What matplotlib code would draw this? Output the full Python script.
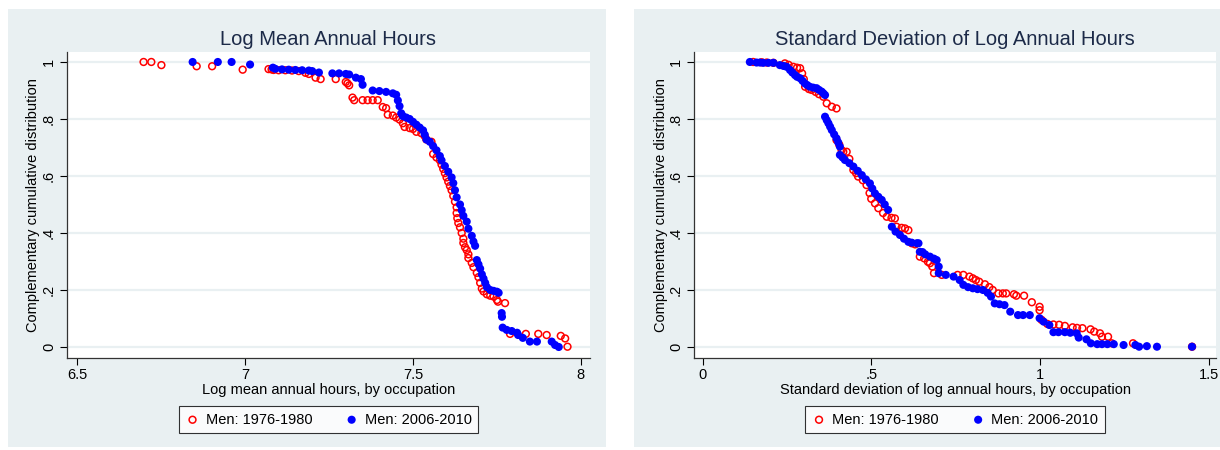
import matplotlib
matplotlib.use("Agg")
import matplotlib.pyplot as plt
from matplotlib.patches import Rectangle

plt.rcParams["font.family"] = ["Liberation Sans", "DejaVu Sans"]

# ---- data (x value, complementary cumulative share) ----
# Left panel: log mean annual hours
mean_red_x = [6.698, 6.721, 6.751, 6.856, 6.902, 6.993, 7.07, 7.079, 7.085, 7.10, 7.12, 7.14, 7.16,
              7.18, 7.19, 7.21, 7.225, 7.27, 7.30, 7.305, 7.31, 7.32, 7.325, 7.35, 7.365, 7.38, 7.395,
              7.41, 7.42, 7.425, 7.44, 7.45, 7.46, 7.47, 7.475, 7.49, 7.50, 7.51, 7.525, 7.535, 7.54,
              7.555, 7.56, 7.57, 7.58, 7.585, 7.59, 7.595, 7.60, 7.605, 7.61, 7.615, 7.62, 7.625, 7.63,
              7.63, 7.632, 7.635, 7.64, 7.645, 7.65, 7.65, 7.655, 7.66, 7.665, 7.665, 7.675, 7.68, 7.69,
              7.695, 7.70, 7.705, 7.71, 7.72, 7.73, 7.74, 7.75, 7.753, 7.774, 7.789, 7.836, 7.873, 7.898,
              7.94, 7.953, 7.96]
mean_red_y = [1.0, 1.0, 0.989, 0.985, 0.985, 0.973, 0.975, 0.974, 0.972, 0.971, 0.971, 0.970, 0.968,
              0.962, 0.958, 0.945, 0.940, 0.940, 0.930, 0.925, 0.918, 0.875, 0.866, 0.866, 0.866, 0.866, 0.866,
              0.842, 0.838, 0.815, 0.812, 0.805, 0.798, 0.785, 0.772, 0.768, 0.765, 0.755, 0.750, 0.740, 0.728,
              0.720, 0.677, 0.665, 0.655, 0.640, 0.625, 0.610, 0.595, 0.580, 0.565, 0.550, 0.530, 0.510, 0.490,
              0.470, 0.452, 0.435, 0.420, 0.400, 0.380, 0.365, 0.350, 0.340, 0.325, 0.312, 0.295, 0.280, 0.260,
              0.245, 0.225, 0.205, 0.195, 0.185, 0.180, 0.177, 0.165, 0.159, 0.154, 0.046, 0.046, 0.046, 0.042,
              0.039, 0.030, 0.001]

mean_blue_x = [6.844, 6.919, 6.96, 7.015, 7.083, 7.09, 7.11, 7.13, 7.15, 7.17, 7.19, 7.20, 7.22, 7.26,
               7.28, 7.30, 7.31, 7.33, 7.345, 7.35, 7.38, 7.40, 7.42, 7.44, 7.45, 7.455, 7.46, 7.465,
               7.47, 7.48, 7.49, 7.50, 7.51, 7.52, 7.53, 7.535, 7.54, 7.55, 7.56, 7.57, 7.58, 7.585,
               7.595, 7.605, 7.615, 7.62, 7.625, 7.63, 7.64, 7.645, 7.65, 7.66, 7.665, 7.675, 7.68, 7.685,
               7.69, 7.695, 7.70, 7.705, 7.71, 7.715, 7.72, 7.73, 7.74, 7.75, 7.755, 7.764, 7.765, 7.767,
               7.779, 7.794, 7.81, 7.813, 7.827, 7.848, 7.869, 7.913, 7.923, 7.934]
mean_blue_y = [1.0, 1.0, 1.0, 0.991, 0.980, 0.976, 0.974, 0.973, 0.972, 0.971, 0.970, 0.968, 0.963, 0.960,
               0.960, 0.958, 0.956, 0.945, 0.940, 0.920, 0.900, 0.898, 0.895, 0.890, 0.885, 0.865, 0.845, 0.820,
               0.810, 0.805, 0.800, 0.790, 0.780, 0.770, 0.760, 0.745, 0.728, 0.720, 0.705, 0.690, 0.670, 0.655,
               0.635, 0.615, 0.595, 0.575, 0.550, 0.525, 0.500, 0.480, 0.460, 0.440, 0.415, 0.390, 0.370, 0.355,
               0.305, 0.290, 0.275, 0.255, 0.240, 0.225, 0.210, 0.200, 0.197, 0.194, 0.190, 0.119, 0.106, 0.068,
               0.060, 0.056, 0.050, 0.042, 0.032, 0.019, 0.019, 0.019, 0.007, 0.0]

# Right panel: standard deviation of log annual hours
sd_red_x = [0.15, 0.175, 0.19, 0.21, 0.244, 0.255, 0.269, 0.28, 0.289, 0.295, 0.30, 0.304, 0.315, 0.323,
            0.335, 0.345, 0.358, 0.368, 0.383, 0.397, 0.397, 0.405, 0.412, 0.417, 0.427, 0.435, 0.447,
            0.455, 0.461, 0.475, 0.486, 0.495, 0.50, 0.511, 0.521, 0.535, 0.546, 0.56, 0.57, 0.575, 0.59,
            0.60, 0.61, 0.62, 0.63, 0.644, 0.657, 0.668, 0.674, 0.681, 0.686, 0.709, 0.756, 0.773, 0.791,
            0.801, 0.81, 0.82, 0.837, 0.85, 0.86, 0.877, 0.89, 0.90, 0.923, 0.93, 0.953, 0.976, 0.999,
            0.999, 1.005, 1.022, 1.04, 1.057, 1.074, 1.097, 1.11, 1.126, 1.15, 1.161, 1.178, 1.184, 1.202,
            1.213, 1.276, 1.451]
sd_red_y = [1.0, 0.999, 0.998, 0.997, 0.995, 0.990, 0.983, 0.980, 0.978, 0.960, 0.940, 0.913, 0.905, 0.902,
            0.895, 0.887, 0.878, 0.855, 0.843, 0.837, 0.726, 0.710, 0.691, 0.685, 0.685, 0.660, 0.621,
            0.610, 0.598, 0.585, 0.568, 0.540, 0.520, 0.504, 0.487, 0.470, 0.457, 0.453, 0.451, 0.422, 0.418,
            0.416, 0.410, 0.364, 0.360, 0.317, 0.311, 0.299, 0.294, 0.282, 0.259, 0.253, 0.253, 0.253, 0.247,
            0.241, 0.235, 0.229, 0.220, 0.210, 0.200, 0.188, 0.188, 0.188, 0.185, 0.180, 0.180, 0.157, 0.141,
            0.129, 0.095, 0.081, 0.079, 0.078, 0.074, 0.069, 0.067, 0.066, 0.062, 0.054, 0.048, 0.036, 0.036,
            0.013, 0.013, 0.001]

sd_blue_x = [0.140, 0.160, 0.17, 0.18, 0.195, 0.21, 0.229, 0.24, 0.249, 0.259, 0.266, 0.274, 0.28, 0.289,
             0.296, 0.303, 0.31, 0.318, 0.328, 0.338, 0.345, 0.353, 0.358, 0.363, 0.363, 0.368, 0.373,
             0.378, 0.383, 0.39, 0.397, 0.402, 0.407, 0.407, 0.415, 0.422, 0.435, 0.447, 0.46, 0.472,
             0.484, 0.496, 0.503, 0.511, 0.521, 0.531, 0.54, 0.55, 0.561, 0.572, 0.585, 0.597, 0.61, 0.62,
             0.635, 0.64, 0.644, 0.652, 0.66, 0.674, 0.686, 0.694, 0.70, 0.70, 0.721, 0.744, 0.762, 0.773,
             0.787, 0.801, 0.815, 0.831, 0.845, 0.855, 0.866, 0.88, 0.895, 0.912, 0.935, 0.95, 0.97, 0.999,
             1.011, 1.028, 1.04, 1.055, 1.074, 1.09, 1.109, 1.115, 1.138, 1.151, 1.17, 1.184, 1.2, 1.219,
             1.248, 1.283, 1.294, 1.317, 1.347, 1.451]
sd_blue_y = [1.0, 0.998, 0.998, 0.997, 0.997, 0.997, 0.989, 0.986, 0.983, 0.972, 0.963, 0.954, 0.948, 0.943,
             0.934, 0.925, 0.919, 0.913, 0.910, 0.908, 0.902, 0.896, 0.890, 0.884, 0.808, 0.796, 0.785,
             0.773, 0.761, 0.746, 0.732, 0.718, 0.703, 0.674, 0.665, 0.656, 0.645, 0.633, 0.618, 0.603,
             0.588, 0.574, 0.556, 0.539, 0.527, 0.516, 0.500, 0.481, 0.422, 0.405, 0.393, 0.380, 0.369, 0.366,
             0.364, 0.364, 0.334, 0.333, 0.325, 0.317, 0.310, 0.305, 0.282, 0.259, 0.253, 0.247, 0.235, 0.218,
             0.210, 0.206, 0.203, 0.200, 0.190, 0.177, 0.153, 0.150, 0.147, 0.124, 0.112, 0.112, 0.112, 0.101,
             0.089, 0.077, 0.052, 0.052, 0.052, 0.050, 0.048, 0.033, 0.027, 0.013, 0.010, 0.010, 0.010, 0.010,
             0.007, 0.007, 0.001, 0.003, 0.001, 0.001]

series_labels = ["Men: 1976-1980", "Men: 2006-2010"]
titles = ["Log Mean Annual Hours", "Standard Deviation of Log Annual Hours"]
xlabels = ["Log mean annual hours, by occupation",
           "Standard deviation of log annual hours, by occupation"]
y_ticks = [0, 0.2, 0.4, 0.6, 0.8, 1]
y_ticklabels = ["0", ".2", ".4", ".6", ".8", "1"]
mean_ticks = [6.5, 7, 7.5, 8]
mean_ticklabels = ["6.5", "7", "7.5", "8"]
sd_ticks = [0, 0.5, 1, 1.5]
sd_ticklabels = ["0", ".5", "1", "1.5"]

BG = "#e9f0f2"
TITLE_C = "#1c2a48"
W, H = 1220, 450


def px_box(left, top, right, bottom):
    return [left / W, (H - bottom) / H, (right - left) / W, (bottom - top) / H]


fig = plt.figure(figsize=(12.2, 4.5), dpi=100)
fig.patches.append(Rectangle((8 / W, 3 / H), 598 / W, 438 / H, transform=fig.transFigure,
                             facecolor=BG, edgecolor="none", zorder=-5))
fig.patches.append(Rectangle((634 / W, 3 / H), 586 / W, 438 / H, transform=fig.transFigure,
                             facecolor=BG, edgecolor="none", zorder=-5))

panels = [
    dict(box=(67, 52, 590, 358), xlim=(6.470, 8.027), ticks=mean_ticks, ticklabels=mean_ticklabels,
         red=(mean_red_x, mean_red_y), blue=(mean_blue_x, mean_blue_y)),
    dict(box=(694, 52, 1216, 358), xlim=(-0.0255, 1.522), ticks=sd_ticks, ticklabels=sd_ticklabels,
         red=(sd_red_x, sd_red_y), blue=(sd_blue_x, sd_blue_y)),
]

for i, p in enumerate(panels):
    ax = fig.add_axes(px_box(*p["box"]))
    ax.set_facecolor("white")
    ax.scatter(*p["red"], s=24, facecolors="none", edgecolors="#ff0000", linewidths=1.1,
               label=series_labels[0], zorder=3)
    ax.scatter(*p["blue"], s=34, color="#0000ff", edgecolors="none", label=series_labels[1], zorder=4)

    ax.set_xlim(*p["xlim"])
    ax.set_ylim(-0.0386, 1.035)
    ax.set_xticks(p["ticks"], p["ticklabels"])
    ax.set_yticks(y_ticks, y_ticklabels)
    ax.tick_params(axis="y", labelrotation=90, length=5, width=0.8, pad=3, labelsize=10.5)
    ax.tick_params(axis="x", length=5, width=0.8, pad=2, labelsize=10.5)
    for lab in ax.get_yticklabels():
        lab.set_va("center")
    ax.grid(axis="y", color=BG, linewidth=1.6, zorder=0)
    ax.set_axisbelow(True)
    for side in ["top", "right"]:
        ax.spines[side].set_visible(False)
    for side in ["left", "bottom"]:
        ax.spines[side].set_color("#333333")
        ax.spines[side].set_linewidth(0.9)

    ax.set_title(titles[i], fontsize=14.5, color=TITLE_C, pad=5)
    ax.set_xlabel(xlabels[i], fontsize=10.5, labelpad=1)
    ax.set_ylabel("Complementary cumulative distribution", fontsize=10.5, labelpad=1)

    cx = (p["box"][0] + p["box"][2]) / 2
    leg = ax.legend(loc="upper center", bbox_to_anchor=(cx / W, (H - 406) / H),
                    bbox_transform=fig.transFigure, ncol=2, fontsize=10.5, frameon=True,
                    fancybox=False, edgecolor="black", handletextpad=0.4, columnspacing=2.2,
                    borderpad=0.45, borderaxespad=0, handlelength=1.0, scatterpoints=1)
    leg.get_frame().set_linewidth(0.8)

fig.savefig("out.png", dpi=100)
